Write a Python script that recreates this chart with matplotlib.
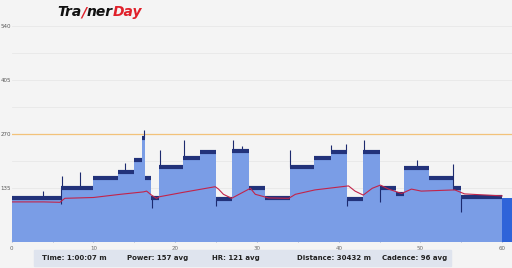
import matplotlib
matplotlib.use("Agg")
import matplotlib.pyplot as plt

# --------------------------------------------------
# Data (minutes / watts / bpm)
# --------------------------------------------------
seg_edges = [0, 6, 10, 13, 15, 16, 16.35, 17.1, 18, 21, 23, 25, 27, 29, 31, 34,
             37, 39, 41, 43, 45, 47, 48, 51, 54, 55, 60]
seg_power = [110, 137, 161, 176, 206, 262, 162, 110, 189, 211, 226, 108, 228, 135,
             110, 189, 212, 226, 108, 226, 135, 122, 185, 162, 135, 113]

cooldown_edges = [60, 61.2]
cooldown_power = [110]

# short spikes / dips in the noisy power trace
spike_min = [3.8, 6.1, 8.4, 13.9, 16.2, 18.1, 21.1, 27.1, 28.2, 34.1, 39.0, 40.9, 43.1, 49.6, 54.0]
spike_top = [128, 165, 175, 198, 280, 231, 257, 256, 242, 231, 243, 247, 256, 206, 197]
dip_min = [6.0, 17.2, 25.0, 41.0, 45.0, 55.0]
dip_low = [96, 85, 92, 90, 100, 76]

hr_min = [0, 3.9, 5.9, 6.5, 10, 13.3, 16.1, 16.5, 17.1, 17.7, 18.1, 21, 24.9, 25.3,
          25.9, 26.9, 28, 29.2, 29.8, 31.4, 33.9, 34.7, 37.1, 41.2, 42, 43, 44.1,
          45.1, 46.1, 47.7, 48.9, 50.1, 54.2, 55.4, 60]
hr_bpm = [101, 101, 100, 110, 112, 120, 126, 128, 118, 110, 114, 125, 139, 133,
          120, 110, 122, 135, 120, 111, 110, 120, 131, 141, 128, 118, 135,
          143, 133, 122, 133, 128, 131, 121, 116]

ftp = 270
y_ticks = [135, 270, 405, 540]
x_ticks = [0, 10, 20, 30, 40, 50, 60]

summary = ["Time: 1:00:07 m", "Power: 157 avg", "HR: 121 avg",
           "Distance: 30432 m", "Cadence: 96 avg"]
summary_x = [74, 158, 236, 334, 415]

logo_parts = [("Tra", "#111111"), ("/", "#e0202a"), ("ner", "#111111"), ("Day", "#e0202a")]


def level_at(m):
    i = max(i for i, e in enumerate(seg_edges[:-1]) if e <= m)
    return seg_power[i]


# --------------------------------------------------
# Figure
# --------------------------------------------------
W, H = 512, 268
fig = plt.figure(figsize=(W / 100, H / 100), dpi=100)
fig.patch.set_facecolor("#f4f4f4")

ax = fig.add_axes([11.7 / W, 1 - 242.3 / H, 1 - 11.7 / W, (242.3 - 18) / H])
ax.set_facecolor("#f4f4f4")
ax.set_xlim(0, 61.2)
ax.set_ylim(0, 135 * (242.3 - 18) / 54)

for g in range(1, 9):
    ax.axhline(g * 67.5, color="#e8e8e8", lw=0.6, zorder=0)
ax.axhline(ftp, color="#f2c27a", lw=0.9, zorder=1)

ax.stairs(seg_power, seg_edges, fill=True, color="#7a9de6", zorder=2)
ax.stairs(cooldown_power, cooldown_edges, fill=True, color="#2f64d9", zorder=2)
ax.vlines(spike_min, [level_at(m) for m in spike_min], spike_top,
          color="#1c2a6e", lw=0.8, zorder=3)
ax.vlines(dip_min, dip_low, [level_at(m) for m in dip_min],
          color="#1c2a6e", lw=0.8, zorder=3)
ax.hlines(seg_power, seg_edges[:-1], seg_edges[1:], color="#22327a", lw=3.0, zorder=3)
ax.plot(hr_min, hr_bpm, color="#c2244a", lw=0.8, zorder=4)

for s in ax.spines.values():
    s.set_visible(False)
ax.set_yticks(y_ticks)
ax.set_yticklabels([str(v) for v in y_ticks])
ax.set_xticks(x_ticks)
ax.set_xticks(range(0, 61, 5), minor=True)
ax.tick_params(axis="y", length=0, pad=0.5, labelsize=4, labelcolor="#555555")
ax.tick_params(axis="x", which="both", length=2, color="#9aa6c0", direction="in",
               pad=3, labelsize=4, labelcolor="#666666")

# logo, pieces laid out left to right
renderer = fig.canvas.get_renderer()
x = 57 / W
for part, colour in logo_parts:
    t = fig.text(x, 1 - 12 / H, part, fontsize=10, fontweight="heavy", style="italic",
                 color=colour, va="center")
    bb = t.get_window_extent(renderer)
    x += bb.width / W

# summary bar
bar = plt.Rectangle((34 / W, 1 - 266 / H), (451 - 34) / W, 16 / H,
                    transform=fig.transFigure, color="#dfe4ee", zorder=0)
fig.patches.append(bar)
for label, x in zip(summary, summary_x):
    fig.text(x / W, 1 - 258 / H, label, fontsize=5, fontweight="bold",
             color="#222222", ha="center", va="center")

fig.savefig("out.png", dpi=100, facecolor=fig.get_facecolor())
